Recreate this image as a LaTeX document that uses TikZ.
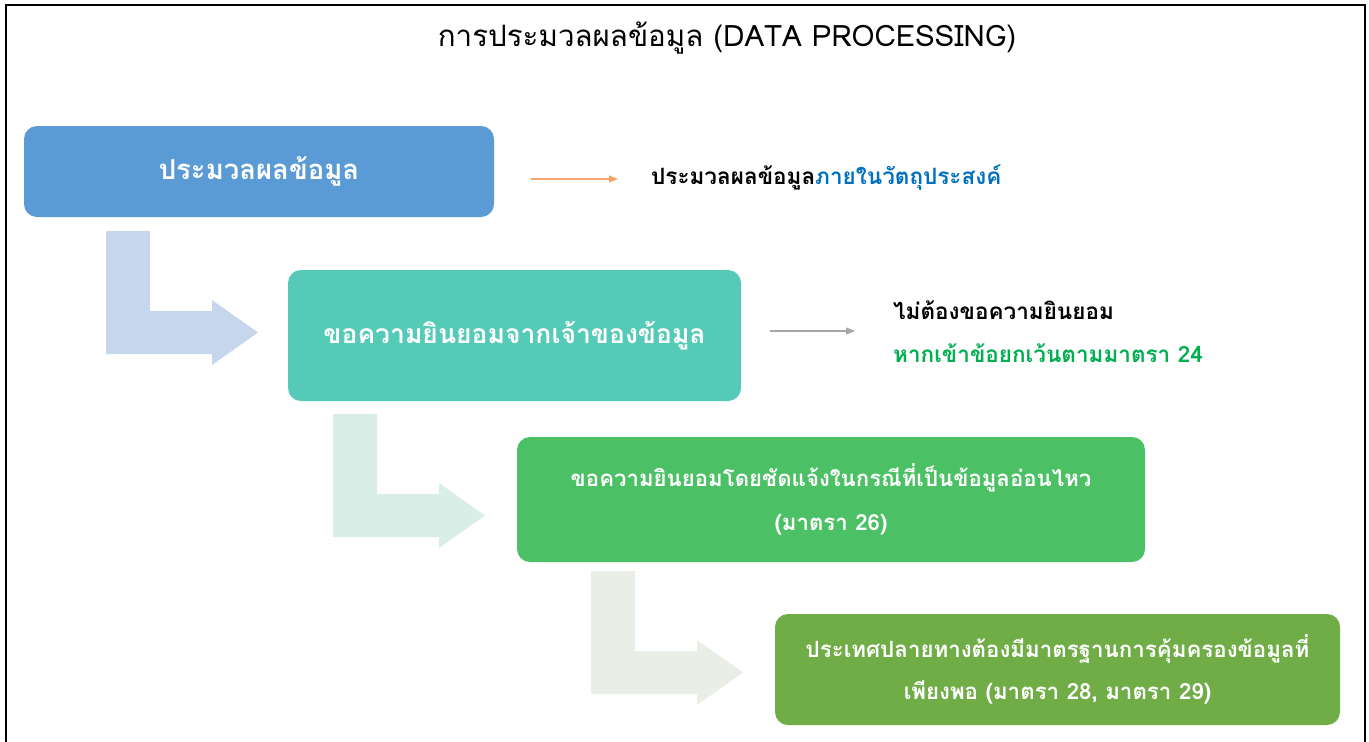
\documentclass[tikz,border=0pt]{standalone}
\usepackage{fontspec}
\newfontfamily\thai[Script=Thai]{Loma}
\usetikzlibrary{arrows.meta}
\definecolor{cbA}{HTML}{5B9BD5}
\definecolor{cbB}{HTML}{55CBB7}
\definecolor{cbC}{HTML}{4CC064}
\definecolor{cbD}{HTML}{70AD47}
\definecolor{clA}{HTML}{C6D7ED}
\definecolor{clB}{HTML}{D9EEE6}
\definecolor{clC}{HTML}{E9EFE7}
\definecolor{corg}{HTML}{F4A46A}
\definecolor{cgry}{HTML}{A6A6A6}
\definecolor{tblue}{HTML}{0070C0}
\definecolor{tgreen}{HTML}{00B050}
\newcommand\Larr[3]{\fill[#3] (#1,#2) -- ++(44,0) -- ++(0,80) -- ++(62,0) -- ++(0,-11) -- ++(46,32.5) -- ++(-46,32.5) -- ++(0,-11) -- ++(-106,0) -- cycle;}
\tikzset{
  box/.style={rounded corners=13pt, inner sep=0pt, text=white, font=\thai\bfseries\fontsize{26.5}{42}\selectfont, align=center},
  side/.style={anchor=west, inner sep=0pt, font=\thai\bfseries\fontsize{22.5}{28}\selectfont},
  sarr/.style={line width=1.1pt, -{Triangle[length=9pt,width=7pt]}}
}
\begin{document}
\begin{tikzpicture}[x=1pt,y=-1pt]
\useasboundingbox (0,0) rectangle (1369,742);
\fill[white] (0,0) rectangle (1369,742);
\draw[line width=2pt] (6,745) -- (6,5) -- (1365,5) -- (1365,745);
\node[font=\thai\fontsize{29.5}{34}\selectfont] (title) at (727,38) {การประมวลผลข้อมูล (DATA PROCESSING)};
\Larr{106}{231}{clA}
\Larr{333}{414}{clB}
\Larr{591}{571}{clC}
\node[box, fill=cbA, minimum width=470pt, minimum height=91pt, font=\thai\bfseries\fontsize{27.5}{42}\selectfont] (b1) at (259,171.5) {ประมวลผลข้อมูล};
\node[box, fill=cbB, minimum width=453pt, minimum height=131pt] (b2) at (514.5,335.5) {ขอความยินยอมจากเจ้าของข้อมูล};
\node[box, fill=cbC, minimum width=628pt, minimum height=125pt, font=\thai\bfseries\fontsize{22.2}{44}\selectfont] (b3) at (831,499.5) {ขอความยินยอมโดยชัดแจ้งในกรณีที่เป็นข้อมูลอ่อนไหว\\(มาตรา 26)};
\node[box, fill=cbD, minimum width=565pt, minimum height=111pt, font=\thai\bfseries\fontsize{22.3}{42}\selectfont] (b4) at (1057.5,669.5) {ประเทศปลายทางต้องมีมาตรฐานการคุ้มครองข้อมูลที่\\เพียงพอ (มาตรา 28, มาตรา 29)};
\coordinate (o1) at (531,179);
\coordinate (o2) at (618,179);
\draw[sarr, draw=corg, fill=corg] (o1) -- (o2);
\node[side] (t1) at (651,178) {ประมวลผลข้อมูล\textcolor{tblue}{ภายในวัตถุประสงค์}};
\coordinate (g1) at (770,331);
\coordinate (g2) at (855,331);
\draw[sarr, draw=cgry, fill=cgry] (g1) -- (g2);
\node[side] (t2) at (893,310) {ไม่ต้องขอความยินยอม};
\node[side, text=tgreen] (t3) at (893,353) {หากเข้าข้อยกเว้นตามมาตรา 24};
\end{tikzpicture}
\end{document}
